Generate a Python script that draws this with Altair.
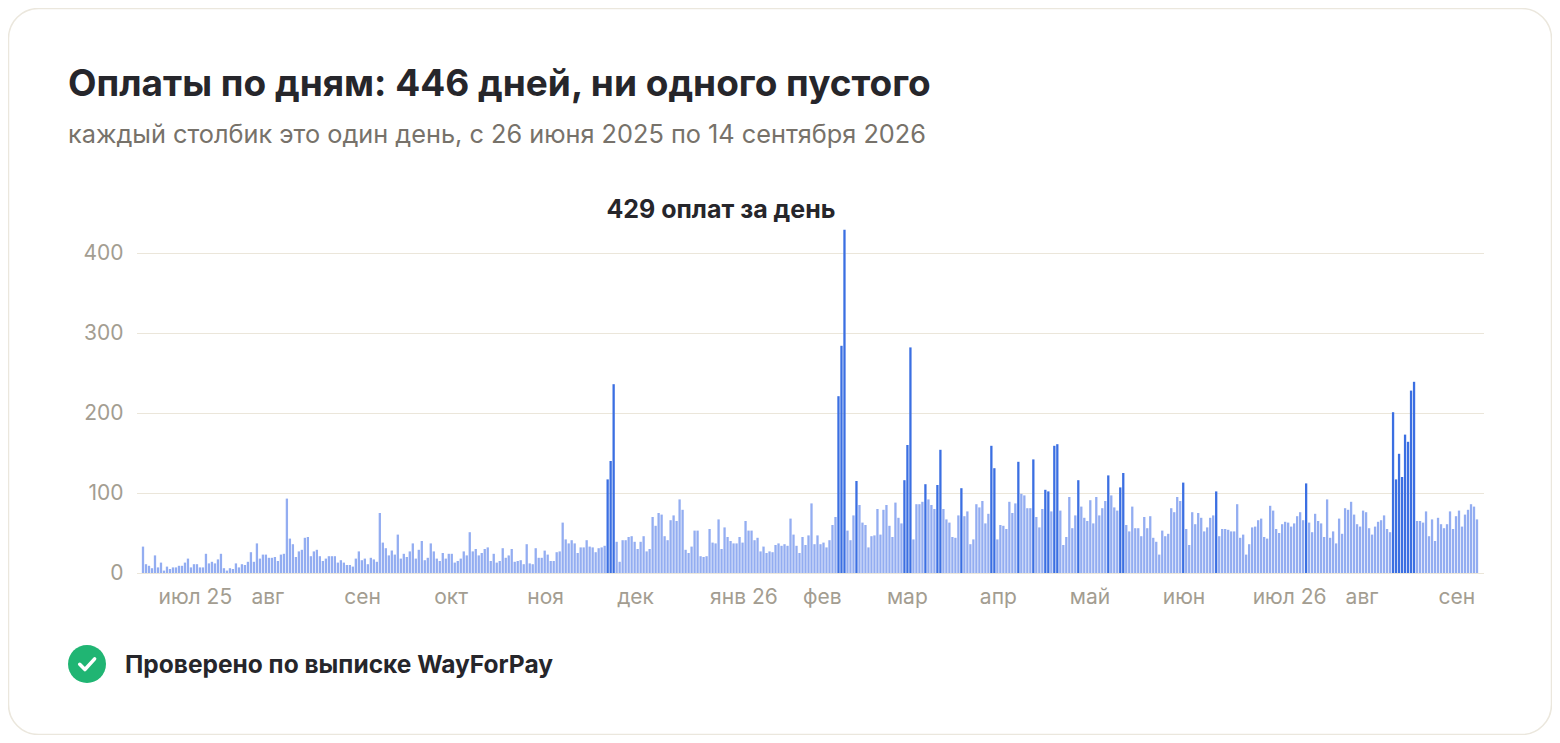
import altair as alt
import pandas as pd

# daily payment counts, one list per month
START_DATE = "2025-06-26"
jun_2025 = [33, 11, 9, 6, 22]
jul_2025 = [7, 13, 3, 8, 5, 7, 7, 9, 9, 13, 18, 7, 11, 11, 7, 7, 24, 12, 14, 12, 17, 24, 6, 3, 6, 5, 12, 7, 11, 10, 14]
aug_2025 = [26, 14, 37, 18, 23, 23, 19, 19, 20, 15, 23, 24, 93, 43, 36, 20, 27, 29, 44, 45, 21, 27, 29, 21, 15, 18, 21, 21, 21, 13, 16]
sep_2025 = [13, 10, 10, 8, 18, 27, 16, 18, 11, 19, 17, 14, 75, 38, 31, 22, 28, 23, 48, 18, 24, 20, 27, 37, 18, 29, 40, 16, 19, 37]
oct_2025 = [27, 18, 15, 25, 18, 24, 24, 13, 15, 18, 27, 22, 51, 27, 30, 22, 25, 30, 32, 15, 24, 13, 15, 31, 19, 22, 30, 14, 15, 16, 11]
nov_2025 = [36, 12, 11, 31, 19, 19, 28, 23, 15, 15, 26, 27, 63, 42, 37, 41, 37, 25, 32, 32, 41, 33, 32, 26, 31, 32, 34, 117, 140, 236]
dec_2025 = [39, 14, 41, 41, 45, 46, 39, 30, 39, 46, 27, 30, 70, 59, 75, 73, 46, 41, 66, 72, 65, 92, 79, 29, 25, 33, 53, 53, 21, 20, 21]
jan_2026 = [55, 38, 37, 67, 30, 57, 45, 40, 37, 37, 45, 38, 65, 53, 53, 41, 44, 27, 33, 25, 27, 26, 35, 37, 34, 36, 34, 68, 48, 34, 25]
feb_2026 = [45, 35, 47, 87, 36, 47, 36, 38, 32, 41, 60, 70, 221, 284, 429, 53, 41, 72, 115, 85, 63, 60, 32, 46, 47, 80, 48, 79]
mar_2026 = [85, 59, 45, 88, 69, 62, 116, 160, 282, 42, 86, 86, 89, 111, 92, 85, 80, 110, 154, 80, 67, 63, 45, 44, 72, 106, 71, 77, 36, 42, 86]
apr_2026 = [82, 90, 62, 74, 159, 131, 42, 60, 59, 55, 89, 75, 87, 139, 99, 97, 81, 81, 142, 70, 57, 80, 104, 102, 77, 159, 161, 78, 35, 45]
may_2026 = [95, 56, 72, 116, 83, 69, 65, 91, 62, 95, 72, 81, 90, 122, 97, 82, 78, 107, 125, 60, 52, 83, 56, 56, 46, 70, 56, 71, 44, 39, 23]
jun_2026 = [53, 46, 49, 81, 76, 95, 90, 113, 55, 35, 76, 61, 75, 69, 52, 57, 69, 72, 102, 46, 55, 55, 54, 52, 52, 86, 44, 48, 23, 36]
jul_2026 = [57, 58, 66, 68, 45, 43, 84, 78, 55, 50, 61, 64, 63, 58, 62, 71, 76, 66, 112, 63, 51, 74, 65, 62, 45, 92, 44, 52, 37, 68, 49]
aug_2026 = [81, 79, 89, 73, 61, 58, 78, 76, 56, 48, 58, 64, 66, 72, 55, 51, 201, 117, 149, 120, 173, 164, 228, 239, 65, 65, 63, 77, 46, 67, 40]
sep_2026 = [69, 61, 56, 61, 77, 55, 71, 78, 58, 73, 79, 86, 83, 67]

month_names = ["янв", "фев", "мар", "апр", "май", "июн", "июл", "авг", "сен", "окт", "ноя", "дек"]
month_ticks = [(2025, 7), (2025, 8), (2025, 9), (2025, 10), (2025, 11), (2025, 12),
               (2026, 1), (2026, 2), (2026, 3), (2026, 4), (2026, 5), (2026, 6),
               (2026, 7), (2026, 8), (2026, 9)]
y_ticks = [0, 100, 200, 300, 400]

TITLE = "Оплаты по дням: 446 дней, ни одного пустого"
SUBTITLE = "каждый столбик это один день, с 26 июня 2025 по 14 сентября 2026"
FOOTER = "Проверено по выписке WayForPay"

LIGHT = "#93adf1"
DARK = "#3b6fe2"
GRID = "#ebe6da"
LABEL = "#a39d91"
INK = "#26262b"
FONT = "Inter"

W, H = 1347, 344
PAD_L, PAD_T, PAD_R, PAD_B = 128.5, 221, 68.5, 162

values = (jun_2025 + jul_2025 + aug_2025 + sep_2025 + oct_2025 + nov_2025 + dec_2025 + jan_2026
          + feb_2026 + mar_2026 + apr_2026 + may_2026 + jun_2026 + jul_2026 + aug_2026 + sep_2026)
dates = pd.date_range(START_DATE, periods=len(values), freq="D")
df = pd.DataFrame({"date": dates.strftime("%Y-%m-%dT00:00:00"), "payments": values})

peak = df.loc[df["payments"].idxmax()]
peak_df = pd.DataFrame({"date": [peak["date"]], "payments": [peak["payments"]],
                        "label": [f"{peak['payments']} оплат за день"]})

names_js = "[" + ",".join(f"'{m}'" for m in month_names) + "]"
label_expr = (f"{names_js}[month(datum.value)] + "
              "(month(datum.value) % 6 == 0 ? ' ' + timeFormat(datum.value, '%y') : '')")

x_scale = alt.Scale(domain=[alt.DateTime(year=2025, month=6, date=25, hours=12),
                            alt.DateTime(year=2026, month=9, date=14, hours=12)])

bars = alt.Chart(df).mark_bar(width=2.3).encode(
    x=alt.X("date:T", scale=x_scale, title=None,
            axis=alt.Axis(values=[alt.DateTime(year=y, month=m, date=1) for y, m in month_ticks],
                          labelExpr=label_expr, labelAlign="left", labelFontSize=21,
                          labelColor=LABEL, labelFont=FONT, labelPadding=13,
                          domain=False, ticks=False, grid=False)),
    y=alt.Y("payments:Q", title=None,
            scale=alt.Scale(domain=[0, 430], nice=False),
            axis=alt.Axis(values=y_ticks, labelFontSize=21, labelColor=LABEL, labelFont=FONT,
                          labelPadding=13.5, domain=False, ticks=False,
                          gridColor=GRID, gridWidth=1.2)),
    color=alt.condition(alt.datum.payments > 100, alt.value(DARK), alt.value(LIGHT)),
)

peak_label = alt.Chart(peak_df).mark_text(
    align="right", baseline="alphabetic", dx=-9, dy=-12,
    fontSize=25, fontWeight="bold", font=FONT, color=INK,
).encode(x="date:T", y="payments:Q", text="label:N")

one = pd.DataFrame({"k": [0]})

# card outline and header/footer sit at fixed pixel offsets from the plot's top-left corner
card = alt.Chart(one).mark_rect(
    fill="white", fillOpacity=0, stroke="#ebe7dd", strokeWidth=1.5, cornerRadius=30,
).encode(x=alt.value(-PAD_L + 0.5), x2=alt.value(W + PAD_R - 0.5),
         y=alt.value(-PAD_T + 0.5), y2=alt.value(H + PAD_B - 0.5))

title = alt.Chart(pd.DataFrame({"t": [TITLE]})).mark_text(
    align="left", baseline="alphabetic", fontSize=37, fontWeight="bold", font=FONT, color=INK,
).encode(x=alt.value(-68.5), y=alt.value(-133), text="t:N")

subtitle = alt.Chart(pd.DataFrame({"t": [SUBTITLE]})).mark_text(
    align="left", baseline="alphabetic", fontSize=25.3, font=FONT, color="#77726a",
).encode(x=alt.value(-68.5), y=alt.value(-86), text="t:N")

badge = alt.Chart(one).mark_point(
    shape="circle", filled=True, size=1444, color="#20b573", opacity=1,
).encode(x=alt.value(-49.5), y=alt.value(435))

tick = alt.Chart(one).mark_point(
    shape="M-0.42,0.02L-0.12,0.32L0.44,-0.3", filled=False, size=1200,
    stroke="white", strokeWidth=3.5, strokeCap="round", strokeJoin="round", opacity=1,
).encode(x=alt.value(-49.5), y=alt.value(435))

footer = alt.Chart(pd.DataFrame({"t": [FOOTER]})).mark_text(
    align="left", baseline="middle", fontSize=24.5, fontWeight="bold", font=FONT, color=INK,
).encode(x=alt.value(-11.5), y=alt.value(437), text="t:N")

chart = alt.layer(card, bars, peak_label, title, subtitle, badge, tick, footer).properties(
    width=W, height=H,
    autosize=alt.AutoSizeParams(type="none"),
    padding={"left": PAD_L, "top": PAD_T, "right": PAD_R, "bottom": PAD_B},
    background="white",
).configure_view(stroke=None)

chart.save("out.html", embed_options={"renderer": "svg", "actions": False})
